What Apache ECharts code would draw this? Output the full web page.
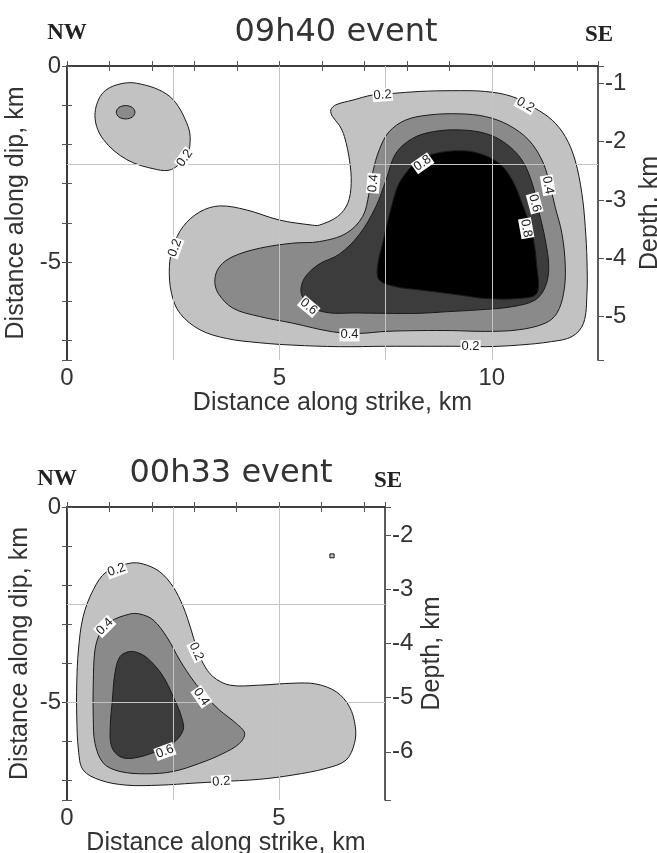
<!DOCTYPE html>
<html>
<head>
<meta charset="utf-8">
<script src="https://cdn.jsdelivr.net/npm/echarts@6/dist/echarts.min.js"></script>
<style>html,body{margin:0;padding:0;background:#fff}#main{width:657px;height:853px}</style>
</head>
<body>
<div id="main"></div>
<script>
// contour outlines, km along strike / km along dip
const levelNames = ['0.2', '0.4', '0.6', '0.8'];

// 09h40 event
const blob02 = [[1.64,-0.44],[2.42,-0.78],[2.85,-1.54],[2.89,-2.05],[2.77,-2.35],[2.46,-2.64],[2.11,-2.64],[1.41,-2.39],[0.86,-1.88],[0.66,-1.33],[0.78,-0.78],[1.09,-0.51]];
const blob04 = [[1.60,-1.18],[1.54,-1.06],[1.38,-1.01],[1.22,-1.06],[1.16,-1.18],[1.22,-1.30],[1.38,-1.35],[1.54,-1.30]];
const top02 = [[6.21,-1.12],[6.25,-1.29],[6.41,-1.51],[6.53,-1.80],[6.65,-2.40],[6.69,-2.99],[6.61,-3.50],[6.37,-3.84],[5.94,-4.06],[5.78,-4.06],[5.0,-3.93],[4.22,-3.67],[3.59,-3.57],[3.13,-3.72],[2.73,-4.10],[2.5,-4.61],[2.41,-5.12],[2.46,-5.80],[2.66,-6.31],[3.13,-6.73],[3.75,-6.95],[4.53,-7.06],[5.31,-7.12],[6.41,-7.16],[7.5,-7.15],[8.5,-7.15],[9.23,-7.15],[9.85,-7.16],[10.63,-7.12],[11.41,-7.03],[11.89,-6.90],[12.16,-6.56],[12.24,-5.80],[12.24,-4.95],[12.20,-4.10],[12.12,-3.25],[11.96,-2.40],[11.73,-1.80],[11.42,-1.38],[11.02,-1.08],[10.48,-0.78],[9.85,-0.65],[9.07,-0.63],[8.29,-0.65],[7.66,-0.70],[7.19,-0.74],[6.73,-0.87],[6.33,-0.99]];
const top04 = [[7.20,-2.70],[7.35,-2.14],[7.58,-1.68],[7.97,-1.38],[8.52,-1.25],[9.23,-1.22],[9.85,-1.29],[10.40,-1.51],[10.87,-1.89],[11.18,-2.40],[11.34,-2.91],[11.49,-3.59],[11.65,-4.27],[11.73,-5.12],[11.69,-5.80],[11.53,-6.31],[11.26,-6.56],[10.63,-6.73],[9.85,-6.77],[9.07,-6.75],[8.29,-6.75],[7.51,-6.77],[6.88,-6.82],[6.25,-6.78],[5.31,-6.56],[4.53,-6.39],[3.91,-6.18],[3.56,-5.80],[3.48,-5.46],[3.59,-5.12],[3.91,-4.86],[4.53,-4.65],[5.31,-4.52],[5.94,-4.48],[6.57,-4.27],[6.96,-3.84],[7.11,-3.25]];
const top06 = [[7.74,-2.23],[8.13,-1.85],[8.60,-1.68],[9.23,-1.63],[9.85,-1.72],[10.32,-1.97],[10.71,-2.40],[10.95,-2.99],[11.10,-3.67],[11.26,-4.44],[11.34,-5.12],[11.26,-5.63],[11.02,-5.97],[10.48,-6.14],[9.70,-6.22],[8.91,-6.27],[8.29,-6.31],[7.51,-6.31],[6.73,-6.30],[6.20,-6.30],[5.80,-6.18],[5.55,-5.90],[5.51,-5.65],[5.63,-5.35],[5.94,-5.05],[6.41,-4.80],[6.88,-4.30],[7.27,-3.59],[7.51,-2.91]];
const top08 = [[7.97,-2.74],[8.29,-2.40],[8.68,-2.23],[9.23,-2.16],[9.70,-2.23],[10.17,-2.48],[10.48,-2.91],[10.71,-3.50],[10.95,-4.27],[11.06,-5.12],[11.06,-5.80],[10.63,-5.93],[9.85,-5.93],[9.23,-5.84],[8.29,-5.71],[7.74,-5.63],[7.35,-5.46],[7.31,-5.12],[7.43,-4.52],[7.62,-3.67],[7.78,-3.08]];

// 00h33 event
const bot02 = [[1.48,-1.44],[0.93,-1.66],[0.62,-2.12],[0.38,-2.81],[0.27,-3.66],[0.23,-4.51],[0.23,-5.37],[0.27,-6.22],[0.38,-6.73],[0.78,-6.99],[1.40,-7.12],[2.19,-7.12],[2.97,-7.07],[3.60,-7.03],[4.54,-6.97],[5.33,-6.86],[6.11,-6.69],[6.58,-6.48],[6.78,-6.05],[6.80,-5.62],[6.66,-5.11],[6.35,-4.73],[5.87,-4.53],[5.33,-4.51],[4.54,-4.56],[3.84,-4.56],[3.44,-4.34],[3.21,-4.00],[3.05,-3.58],[2.93,-3.15],[2.74,-2.55],[2.50,-2.04],[2.19,-1.66],[1.80,-1.46]];
const bot04 = [[1.48,-2.74],[1.01,-2.94],[0.78,-3.23],[0.66,-3.66],[0.62,-4.51],[0.62,-5.37],[0.66,-6.05],[0.86,-6.56],[1.25,-6.77],[1.87,-6.83],[2.50,-6.77],[3.13,-6.56],[3.68,-6.31],[4.07,-6.05],[4.19,-5.79],[3.99,-5.54],[3.60,-5.20],[3.29,-4.86],[2.97,-4.43],[2.66,-3.92],[2.35,-3.32],[2.03,-2.89],[1.72,-2.74]];
const bot06 = [[1.48,-3.70],[1.25,-3.83],[1.13,-4.26],[1.07,-4.94],[1.02,-5.62],[1.05,-6.13],[1.25,-6.39],[1.56,-6.43],[2.11,-6.26],[2.50,-6.05],[2.74,-5.71],[2.70,-5.37],[2.54,-4.94],[2.27,-4.34],[1.95,-3.92],[1.72,-3.75]];
const botSpeck = [[6.20,-1.20],[6.30,-1.20],[6.30,-1.30],[6.20,-1.30]];

// contour labels: x, y, level index, angle
const topLabels = [[2.77,-2.35,0,55],[2.54,-4.64,0,70],[7.43,-0.74,0,4],[10.79,-0.99,0,-30],[9.50,-7.16,0,0],
	[7.21,-2.99,1,85],[11.32,-3.04,1,-80],[6.65,-6.86,1,0],
	[5.69,-6.14,2,-40],[11.01,-3.50,2,-75],
	[8.37,-2.48,3,35],[10.81,-4.14,3,-80]];
const botLabels = [[1.17,-1.61,0,20],[3.05,-3.70,0,-65],[3.64,-7.03,0,4],
	[0.89,-3.06,1,45],[3.17,-4.86,1,-55],
	[2.31,-6.26,2,20]];

// axis ranges
const topStrikeMax = 12.5, botStrikeMax = 7.5;
const dipMin = -7.5;
const topDepth = [-5.742, -0.703];
const botDepth = [-6.89, -1.483];
const topGridX = [2.5, 5, 7.5, 10], topGridY = [-2.5];
const botGridX = [2.5, 5], botGridY = [-2.5, -5];

const FONT = 'Liberation Sans';
const fillColors = ['#c2c2c2', '#8a8a8a', '#3c3c3c', '#000000'];
const topContours = [[blob02,0],[top02,0],[blob04,1],[top04,1],[top06,2],[top08,3]];
const botContours = [[bot02,0],[botSpeck,0],[bot04,1],[bot06,2]];

let myChart = echarts.init(document.getElementById('main'));

const frameLine = {show:true, lineStyle:{color:'#333', width:1.6}};
const labelStyle = {fontSize:24, color:'#333', fontFamily:FONT};
const nameStyle = {fontSize:25, color:'#333', fontFamily:FONT};

function strikeAxis(grid, max, pos){
	return {
		type:'value', gridIndex:grid, position:pos, min:0, max:max, interval:1,
		axisLine:frameLine,
		axisTick:{show:true, inside:true, length:5, lineStyle:{color:'#555'}},
		axisLabel:{show:pos==='bottom', margin:6, formatter:function(v){return v%5===0 ? String(v) : '';}, ...labelStyle},
		splitLine:{show:false},
		name: pos==='bottom' ? 'Distance along strike, km' : '',
		nameLocation:'middle', nameGap:28, nameTextStyle:nameStyle
	};
}
function dipAxis(grid, pos){
	return {
		type:'value', gridIndex:grid, position:pos, min:dipMin, max:0, splitNumber:8,
		axisLine:frameLine,
		axisTick:{show:true, inside:true, length:5, lineStyle:{color:'#555'}},
		axisLabel:{show:pos==='left', margin:6, formatter:function(v){return (v===0||v===-5) ? String(v) : '';}, ...labelStyle},
		splitLine:{show:false},
		name: pos==='left' ? 'Distance along dip, km' : '',
		nameLocation:'middle', nameGap:34, nameRotate:90, nameTextStyle:nameStyle
	};
}
function depthAxis(grid, range, gap){
	return {
		type:'value', gridIndex:grid, position:'right', min:range[0], max:range[1], splitNumber:5,
		axisLine:frameLine,
		axisTick:{show:true, inside:false, length:6, lineStyle:{color:'#555'}},
		axisLabel:{margin:7, formatter:function(v){return Number.isInteger(v) ? String(v) : '';}, ...labelStyle},
		splitLine:{show:false},
		name:'Depth, km', nameLocation:'middle', nameGap:gap, nameRotate:90, nameTextStyle:nameStyle
	};
}

function contourSeries(list, xi, yi){
	return {
		type:'custom', xAxisIndex:xi, yAxisIndex:yi, z:2, silent:true, clip:true,
		data:list.map(function(c, i){ return [c[0][0][0], c[0][0][1], i]; }),
		renderItem:function(params, api){
			let c = list[params.dataIndex];
			let pts = c[0].map(function(p){ return api.coord(p); });
			return {
				type:'polygon',
				shape:{points:pts, smooth: c[0].length > 4 ? 0.35 : 0},
				style:{fill:fillColors[c[1]], stroke:'#1a1a1a', lineWidth:1}
			};
		}
	};
}
function labelSeries(list, xi, yi){
	return {
		type:'custom', xAxisIndex:xi, yAxisIndex:yi, z:10, silent:true,
		data:list.map(function(l){ return [l[0], l[1]]; }),
		renderItem:function(params, api){
			let l = list[params.dataIndex];
			let p = api.coord([l[0], l[1]]);
			return {
				type:'text', x:p[0], y:p[1], rotation:l[3]*Math.PI/180,
				style:{text:levelNames[l[2]], font:'13px ' + FONT, fill:'#222',
					backgroundColor:'#fff', padding:[0,1,0,1],
					align:'center', verticalAlign:'middle', textAlign:'center', textVerticalAlign:'middle'}
			};
		}
	};
}
function gridSeries(xs, ys, xi, yi){
	return {
		type:'line', xAxisIndex:xi, yAxisIndex:yi, z:5, data:[], silent:true,
		markLine:{
			silent:true, symbol:'none', animation:false,
			label:{show:false},
			lineStyle:{color:'#c4c4c4', width:1, type:'solid'},
			data:xs.map(function(v){return {xAxis:v};}).concat(ys.map(function(v){return {yAxis:v};}))
		}
	};
}

function titleText(text, x, y, size, serif){
	return {
		text:text, left:x, top:y, textAlign:'center', padding:0,
		textStyle:{fontSize:size, color: serif ? '#222' : '#333',
			fontWeight: serif ? 'bold' : 'normal',
			fontFamily: serif ? 'Liberation Serif' : 'DejaVu Sans'}
	};
}

let option = {
	animation:false,
	backgroundColor:'#fff',
	title:[
		titleText('09h40 event', 336, 17, 32, false),
		titleText('NW', 67, 22, 23, true),
		titleText('SE', 599, 24, 23, true),
		titleText('00h33 event', 231, 458, 32, false),
		titleText('NW', 57, 468, 23, true),
		titleText('SE', 388, 470, 23, true)
	],
	grid:[
		{left:67, top:66, width:531, height:294, outerBoundsMode:'none', containLabel:false},
		{left:67, top:507, width:318, height:293, outerBoundsMode:'none', containLabel:false}
	],
	xAxis:[
		strikeAxis(0, topStrikeMax, 'bottom'),
		strikeAxis(0, topStrikeMax, 'top'),
		strikeAxis(1, botStrikeMax, 'bottom'),
		strikeAxis(1, botStrikeMax, 'top')
	],
	yAxis:[
		dipAxis(0, 'left'),
		dipAxis(0, 'right'),
		depthAxis(0, topDepth, 31),
		dipAxis(1, 'left'),
		dipAxis(1, 'right'),
		depthAxis(1, botDepth, 35)
	],
	series:[
		contourSeries(topContours, 0, 0),
		contourSeries(botContours, 2, 3),
		gridSeries(topGridX, topGridY, 0, 0),
		gridSeries(botGridX, botGridY, 2, 3),
		labelSeries(topLabels, 0, 0),
		labelSeries(botLabels, 2, 3)
	]
};
myChart.setOption(option);
</script>
</body>
</html>
